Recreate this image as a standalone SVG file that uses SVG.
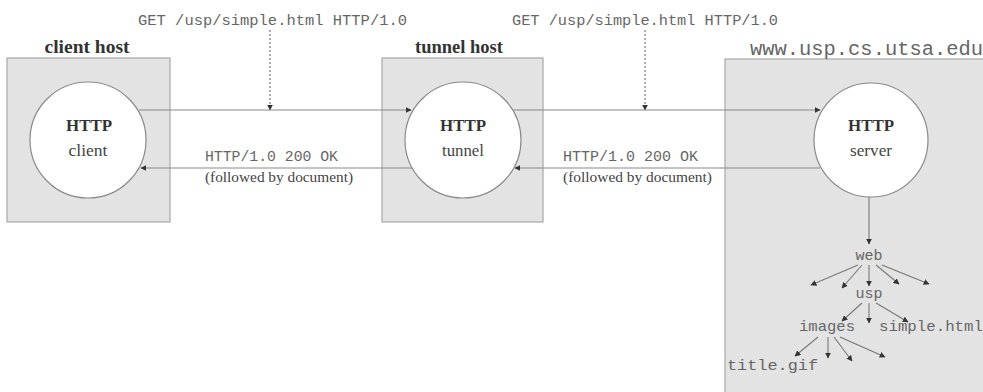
<svg xmlns="http://www.w3.org/2000/svg" width="983" height="392" viewBox="0 0 983 392">
<defs>
<marker id="ah" viewBox="0 0 10 10" refX="9" refY="5" markerWidth="6" markerHeight="6" markerUnits="userSpaceOnUse" orient="auto">
<path d="M0,0 L10,5 L0,10 z" fill="#333"/>
</marker>
</defs>
<style>
.box{fill:#e3e3e3;stroke:#a8a8a8;stroke-width:1.2}
.circ{fill:#ffffff;stroke:#8a8a8a;stroke-width:1.2}
.lbl{font-family:"Liberation Serif",serif;font-weight:bold;font-size:18px;fill:#333;text-anchor:middle}
.t1{font-family:"Liberation Serif",serif;font-weight:bold;font-size:16px;fill:#333;text-anchor:middle}
.t2{font-family:"Liberation Serif",serif;font-size:16px;fill:#444;text-anchor:middle}
.mono{font-family:"Liberation Mono",monospace;font-size:15px;fill:#666}
.ser{font-family:"Liberation Serif",serif;font-size:14px;fill:#444}
.ln{stroke:#8a8a8a;stroke-width:1.2;fill:none;marker-end:url(#ah)}
.dot{stroke:#777;stroke-width:1.2;stroke-dasharray:2,2;fill:none;marker-end:url(#ah)}
.tr{stroke:#777;stroke-width:1.1;fill:none;marker-end:url(#ah)}
</style>
<rect width="983" height="392" fill="#ffffff"/>

<g id="client-host">
<rect class="box" x="7" y="58" width="163" height="164"/>
<text class="lbl" x="87" y="53" textLength="85" lengthAdjust="spacingAndGlyphs">client host</text>
<circle class="circ" cx="88" cy="140" r="58"/>
<text class="t1" x="89" y="131" textLength="46" lengthAdjust="spacingAndGlyphs">HTTP</text>
<text class="t2" x="88" y="156" textLength="39" lengthAdjust="spacingAndGlyphs">client</text>
</g>

<g id="tunnel-host">
<rect class="box" x="382" y="58" width="161" height="164"/>
<text class="lbl" x="459" y="53" textLength="88" lengthAdjust="spacingAndGlyphs">tunnel host</text>
<circle class="circ" cx="463" cy="140" r="58"/>
<text class="t1" x="463" y="131" textLength="46" lengthAdjust="spacingAndGlyphs">HTTP</text>
<text class="t2" x="463" y="156" textLength="42" lengthAdjust="spacingAndGlyphs">tunnel</text>
</g>

<g id="server-host">
<rect class="box" x="725" y="59" width="270" height="345"/>
<text class="mono" x="750" y="55" style="font-size:20px" textLength="233" lengthAdjust="spacingAndGlyphs">www.usp.cs.utsa.edu</text>
<circle class="circ" cx="871" cy="140" r="57"/>
<text class="t1" x="871" y="131" textLength="46" lengthAdjust="spacingAndGlyphs">HTTP</text>
<text class="t2" x="871" y="156" textLength="42" lengthAdjust="spacingAndGlyphs">server</text>
</g>

<g id="tree">
<text class="mono" x="869" y="260" text-anchor="middle">web</text>
<text class="mono" x="869" y="298" text-anchor="middle">usp</text>
<text class="mono" x="799" y="331" textLength="56" lengthAdjust="spacingAndGlyphs">images</text>
<text class="mono" x="879" y="331" textLength="104" lengthAdjust="spacingAndGlyphs">simple.html</text>
<text class="mono" x="727" y="370" textLength="91" lengthAdjust="spacingAndGlyphs">title.gif</text>
</g>

<g id="labels">
<text class="mono" x="138" y="25" textLength="269" lengthAdjust="spacingAndGlyphs">GET /usp/simple.html HTTP/1.0</text>
<text class="mono" x="512" y="25" textLength="266" lengthAdjust="spacingAndGlyphs">GET /usp/simple.html HTTP/1.0</text>
<text class="mono" x="205" y="161" textLength="133" lengthAdjust="spacingAndGlyphs">HTTP/1.0 200 OK</text>
<text class="ser" x="205" y="182" textLength="148" lengthAdjust="spacingAndGlyphs">(followed by document)</text>
<text class="mono" x="563" y="161" textLength="135" lengthAdjust="spacingAndGlyphs">HTTP/1.0 200 OK</text>
<text class="ser" x="563" y="182" textLength="149" lengthAdjust="spacingAndGlyphs">(followed by document)</text>
</g>

<g id="connectors">
<line class="ln" x1="139" y1="110" x2="411" y2="110"/>
<line class="ln" x1="513" y1="110" x2="820" y2="110"/>
<line class="ln" x1="820" y1="168" x2="515" y2="168"/>
<line class="ln" x1="412" y1="168" x2="141" y2="168"/>
<line class="dot" x1="270" y1="30" x2="270" y2="110"/>
<line class="dot" x1="645" y1="30" x2="645" y2="110"/>
<line class="tr" x1="869" y1="197" x2="869" y2="244"/>
<line class="tr" x1="858" y1="265" x2="811" y2="285"/>
<line class="tr" x1="862" y1="265" x2="842" y2="288"/>
<line class="tr" x1="869" y1="265" x2="869" y2="286"/>
<line class="tr" x1="876" y1="265" x2="899" y2="284"/>
<line class="tr" x1="882" y1="265" x2="929" y2="284"/>
<line class="tr" x1="862" y1="303" x2="842" y2="321"/>
<line class="tr" x1="869" y1="303" x2="869" y2="323"/>
<line class="tr" x1="876" y1="303" x2="908" y2="322"/>
<line class="tr" x1="818" y1="337" x2="795" y2="356"/>
<line class="tr" x1="828" y1="337" x2="828" y2="358"/>
<line class="tr" x1="834" y1="337" x2="852" y2="361"/>
<line class="tr" x1="840" y1="337" x2="885" y2="357"/>
</g>
</svg>
